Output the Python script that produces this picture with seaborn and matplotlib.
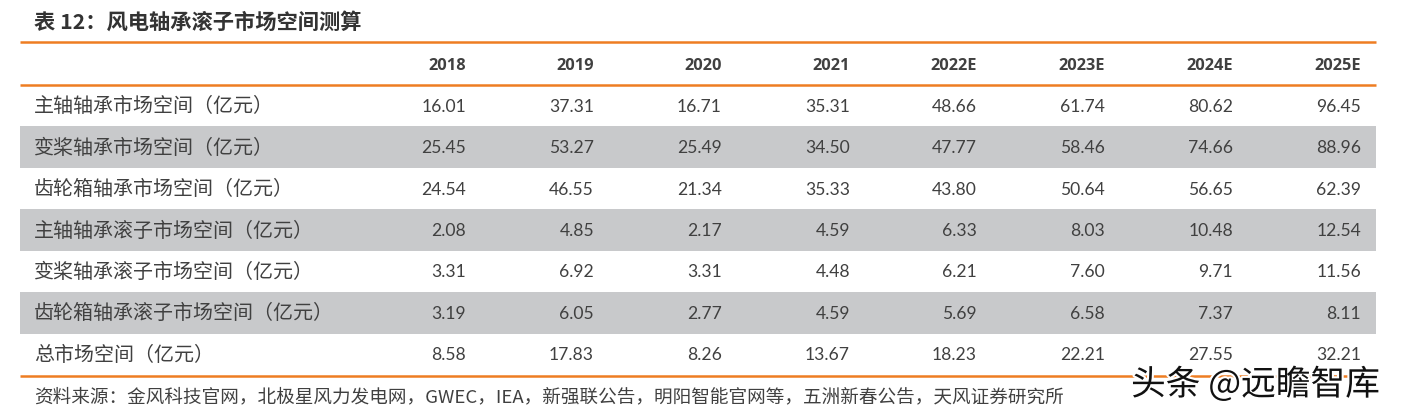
import numpy as np
import pandas as pd
import matplotlib.pyplot as plt
import matplotlib.patheffects as pe
from matplotlib.colors import ListedColormap
import seaborn as sns

# Table data
title = "表 12：风电轴承滚子市场空间测算"
years = ["2018", "2019", "2020", "2021", "2022E", "2023E", "2024E", "2025E"]
row_labels = [
    "主轴轴承市场空间（亿元）",
    "变桨轴承市场空间（亿元）",
    "齿轮箱轴承市场空间（亿元）",
    "主轴轴承滚子市场空间（亿元）",
    "变桨轴承滚子市场空间（亿元）",
    "齿轮箱轴承滚子市场空间（亿元）",
    "总市场空间（亿元）",
]
main_bearing = [16.01, 37.31, 16.71, 35.31, 48.66, 61.74, 80.62, 96.45]
pitch_bearing = [25.45, 53.27, 25.49, 34.50, 47.77, 58.46, 74.66, 88.96]
gearbox_bearing = [24.54, 46.55, 21.34, 35.33, 43.80, 50.64, 56.65, 62.39]
main_roller = [2.08, 4.85, 2.17, 4.59, 6.33, 8.03, 10.48, 12.54]
pitch_roller = [3.31, 6.92, 3.31, 4.48, 6.21, 7.60, 9.71, 11.56]
gearbox_roller = [3.19, 6.05, 2.77, 4.59, 5.69, 6.58, 7.37, 8.11]
total = [8.58, 17.83, 8.26, 13.67, 18.23, 22.21, 27.55, 32.21]
source = "资料来源：金风科技官网，北极星风力发电网，GWEC，IEA，新强联公告，明阳智能官网等，五洲新春公告，天风证券研究所"
watermark = "头条 @远瞻智库"

df = pd.DataFrame([main_bearing, pitch_bearing, gearbox_bearing, main_roller,
                   pitch_roller, gearbox_roller, total],
                  index=row_labels, columns=years)

sns.set_theme(style="white")
plt.rcParams['font.family'] = ['Noto Sans CJK SC', 'DejaVu Sans']

W, H = 1403, 414
fig = plt.figure(figsize=(W / 100, H / 100), dpi=100)
fig.patch.set_facecolor("white")

# Body: alternating row shading through a heatmap
left, right = 20, 1376
top, bottom = 86, 376
band_ax = fig.add_axes([left / W, 1 - bottom / H, (right - left) / W, (bottom - top) / H])
shade = pd.DataFrame({"band": [i % 2 for i in range(len(df))]}, index=df.index)
sns.heatmap(shade, ax=band_ax, cmap=ListedColormap(["white", "#C8C9CB"]),
            cbar=False, xticklabels=False, yticklabels=False, vmin=0, vmax=1)
band_ax.set_xlabel("")
band_ax.set_ylabel("")

# Overlay in pixel coordinates for text and rules
ax = fig.add_axes([0, 0, 1, 1])
ax.set_xlim(0, W)
ax.set_ylim(H, 0)
ax.axis("off")
ax.patch.set_alpha(0)

orange = "#EE7D22"
text_color = "#404040"
for y in (43, 85.5, 377):
    ax.plot([left, right], [y, y], color=orange, lw=1.8, solid_capstyle="butt")

ax.text(34, 22, title, fontsize=15.3, fontweight="bold", color="#333333",
        ha="left", va="center")

col_right = [466, 594, 722, 850, 977, 1105, 1233, 1361]
for x, yr in zip(col_right, years):
    ax.text(x, 66, yr, fontsize=11.8, fontweight="bold", color=text_color,
            ha="right", va="center", family="Open Sans")

row_h = (bottom - top) / len(df)
for i, (label, row) in enumerate(df.iterrows()):
    yc = top + row_h * (i + 0.5)
    ax.text(34, yc, label, fontsize=14.4, color=text_color, ha="left", va="center")
    for x, v in zip(col_right, row.values):
        ax.text(x, yc, f"{v:.2f}", fontsize=12.6, color=text_color,
                ha="right", va="center", family="Lato")

ax.text(34, 397, source, fontsize=13.4, color=text_color, ha="left", va="center")

ax.text(1131, 386, watermark, fontsize=25, color="#111111", ha="left", va="center",
        path_effects=[pe.withStroke(linewidth=3, foreground="white")])

fig.savefig("out.png", dpi=100, facecolor="white")
